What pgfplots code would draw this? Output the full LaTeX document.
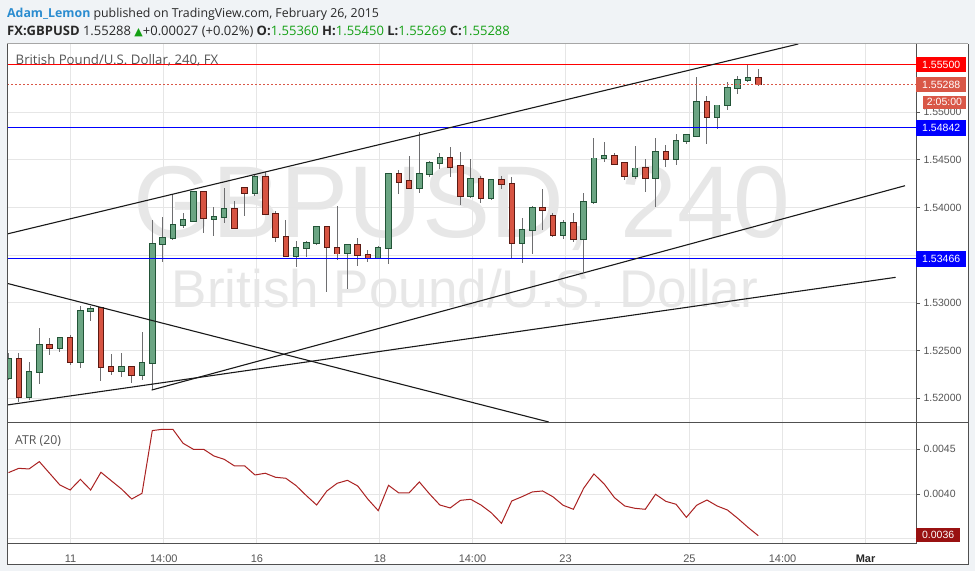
\documentclass[border=0pt]{standalone}
\usepackage{fontspec}
\setmainfont{Liberation Sans}
\newfontfamily\headfont{Open Sans}
\newfontfamily\symfont{DejaVu Sans}
\usepackage{pgfplots}
\usepackage{pgfplotstable}
\pgfplotsset{compat=1.18}
\definecolor{bg}{RGB}{240,243,246}
\definecolor{upfill}{RGB}{107,165,131}
\definecolor{upline}{RGB}{34,84,55}
\definecolor{dnfill}{RGB}{215,84,66}
\definecolor{dnline}{RGB}{91,26,19}
\definecolor{wick}{RGB}{110,110,112}
\definecolor{gridc}{RGB}{230,230,230}
\definecolor{wm}{RGB}{231,231,231}
\definecolor{lblgray}{RGB}{85,85,85}
\definecolor{hdr}{RGB}{40,40,40}
\definecolor{curred}{RGB}{217,87,71}
\definecolor{atrc}{RGB}{170,34,34}
\definecolor{atrbox}{RGB}{153,17,17}
\definecolor{userblue}{RGB}{42,140,208}
\definecolor{qgreen}{RGB}{20,160,20}
\definecolor{framec}{RGB}{80,80,80}
\definecolor{trend}{RGB}{25,25,25}

\pgfplotstableread{
i o h l c
1 1.52210 1.52475 1.52192 1.52409
3 1.52014 1.52384 1.51982 1.52276
4 1.52276 1.52737 1.52150 1.52559
6 1.52527 1.52642 1.52485 1.52632
8 1.52380 1.52967 1.52318 1.52915
9 1.52912 1.52967 1.52813 1.52939
12 1.52286 1.52475 1.52223 1.52328
14 1.52244 1.52695 1.52192 1.52370
15 1.52370 1.53868 1.52087 1.53617
16 1.53617 1.53900 1.53428 1.53677
17 1.53677 1.54130 1.53659 1.53813
18 1.53813 1.53945 1.53781 1.53868
19 1.53858 1.54175 1.53844 1.54159
21 1.53882 1.54008 1.53704 1.53897
22 1.53897 1.54201 1.53834 1.53981
25 1.54148 1.54351 1.54120 1.54316
29 1.53494 1.53648 1.53379 1.53572
30 1.53572 1.53648 1.53478 1.53624
31 1.53624 1.53809 1.53606 1.53792
34 1.53519 1.53617 1.53145 1.53603
37 1.53470 1.53596 1.53467 1.53572
38 1.53572 1.54355 1.53407 1.54350
41 1.54201 1.54794 1.54155 1.54350
42 1.54350 1.54490 1.54322 1.54463
43 1.54463 1.54567 1.54403 1.54515
46 1.54123 1.54508 1.54102 1.54295
48 1.54102 1.54298 1.54078 1.54288
51 1.53631 1.53893 1.53421 1.53764
52 1.53764 1.54015 1.53512 1.53997
55 1.53711 1.53868 1.53669 1.53834
57 1.53666 1.54155 1.53327 1.54054
58 1.54054 1.54731 1.54033 1.54515
59 1.54515 1.54686 1.54479 1.54536
62 1.54333 1.54644 1.54298 1.54410
64 1.54312 1.54725 1.54008 1.54578
66 1.54504 1.54770 1.54445 1.54696
67 1.54696 1.54770 1.54662 1.54756
68 1.54752 1.55370 1.54741 1.55102
70 1.54945 1.55070 1.54819 1.55070
71 1.55070 1.55311 1.55021 1.55249
72 1.55249 1.55377 1.55186 1.55332
73 1.55332 1.55500 1.55318 1.55353
}\upc

\pgfplotstableread{
i o h l c
2 1.52409 1.52478 1.51964 1.52011
5 1.52559 1.52632 1.52454 1.52527
7 1.52632 1.52663 1.52349 1.52380
10 1.52946 1.52960 1.52184 1.52325
11 1.52328 1.52464 1.52244 1.52286
13 1.52328 1.52331 1.52160 1.52244
20 1.54159 1.54165 1.53735 1.53886
23 1.53981 1.54068 1.53775 1.53781
24 1.54201 1.54211 1.53913 1.54148
26 1.54316 1.54375 1.53920 1.53928
27 1.53928 1.53963 1.53641 1.53687
28 1.53687 1.53868 1.53484 1.53494
32 1.53792 1.53809 1.53114 1.53582
33 1.53582 1.54015 1.53449 1.53519
35 1.53603 1.53680 1.53390 1.53499
36 1.53499 1.53554 1.53431 1.53470
39 1.54350 1.54392 1.54141 1.54270
40 1.54277 1.54542 1.54195 1.54201
44 1.54515 1.54637 1.54322 1.54427
45 1.54434 1.54584 1.54026 1.54123
47 1.54295 1.54333 1.54043 1.54102
49 1.54288 1.54333 1.54193 1.54243
50 1.54243 1.54322 1.53470 1.53631
53 1.53997 1.54193 1.53764 1.53973
54 1.53910 1.53945 1.53693 1.53711
56 1.53834 1.53939 1.53641 1.53666
60 1.54536 1.54567 1.54445 1.54458
61 1.54463 1.54473 1.54288 1.54333
63 1.54410 1.54508 1.54165 1.54312
65 1.54578 1.54654 1.54427 1.54504
69 1.55102 1.55168 1.54662 1.54945
74 1.55360 1.55450 1.55269 1.55288
}\dnc

\pgfplotstableread{
i v
1 0.004239
2 0.004287
3 0.004280
4 0.004362
5 0.004232
6 0.004101
7 0.004045
8 0.004164
9 0.004045
10 0.004243
11 0.004149
12 0.004056
13 0.003944
14 0.004008
15 0.004709
16 0.004724
17 0.004724
18 0.004567
19 0.004500
20 0.004500
21 0.004425
22 0.004388
23 0.004314
24 0.004314
25 0.004213
26 0.004232
27 0.004187
28 0.004176
29 0.004094
30 0.003982
31 0.003877
32 0.004034
33 0.004120
34 0.004153
35 0.004090
36 0.003941
37 0.003814
38 0.004097
39 0.004012
40 0.004012
41 0.004135
42 0.004000
43 0.003877
44 0.003844
45 0.003929
46 0.003941
47 0.003877
48 0.003791
49 0.003672
50 0.003922
51 0.003970
52 0.004023
53 0.004034
54 0.003970
55 0.003874
56 0.003829
57 0.004064
58 0.004224
59 0.004112
60 0.003959
61 0.003866
62 0.003840
63 0.003829
64 0.003997
65 0.003918
66 0.003885
67 0.003739
68 0.003874
69 0.003933
70 0.003866
71 0.003821
72 0.003728
73 0.003627
74 0.003534
}\atr

\pgfplotsset{
  wickstyle/.style={draw=none, mark=none, forget plot,
    error bars/.cd, y dir=both, y explicit, error mark=none,
    error bar style={draw=wick, line width=1pt}},
  bodyout/.style={draw=none, mark=none, forget plot,
    error bars/.cd, y dir=both, y explicit, error mark=none,
    error bar style={draw=#1, line width=6.5pt}},
  bodyin/.style={draw=none, mark=none, forget plot,
    error bars/.cd, y dir=both, y explicit, error mark=none,
    error bar style={draw=#1, line width=4.5pt}},
}

\begin{document}
\begin{tikzpicture}
\fill[bg] (0pt,0pt) rectangle (975pt,-571pt);
\path[use as bounding box] (0pt,0pt) rectangle (975pt,-571pt);
\fill[white] (7pt,-43.5pt) rectangle (968pt,-564pt);

% watermark
\node[anchor=base, inner sep=0pt, text=wm, font=\fontsize{102}{110}\selectfont] at (462pt,-237pt) {GBPUSD, 240};
\node[anchor=base, inner sep=0pt, text=wm, font=\fontsize{53}{60}\selectfont] at (465pt,-307pt) {British Pound/U.S. Dollar};

\begin{axis}[
  at={(7pt,-422pt)}, anchor=south west,
  scale only axis, width=909pt, height=378.5pt,
  xmin=0.854, xmax=89.36, ymin=1.51752, ymax=1.55718,
  axis line style={draw=none},
  xtick={7.05,16.12,25.19,37.17,46.18,55.24,67.3,76.37,84.45},
  xticklabels={{},{},{},{},{},{},{},{},{}}, xtick style={draw=none},
  ytick={1.52,1.525,1.53,1.535,1.54,1.545,1.55,1.555},
  yticklabels={1.52000,1.52500,1.53000,{},1.54000,1.54500,1.55000,{}},
  ytick pos=right, yticklabel pos=right,
  tick align=outside, major tick length=4pt,
  ytick style={draw=lblgray, line width=0.8pt},
  scaled y ticks=false,
  yticklabel style={font=\fontsize{10.5}{12}\selectfont, text=lblgray},
  grid=major, major grid style={draw=gridc, line width=1pt},
]
% wicks
\addplot[wickstyle] table[x=i, y expr={(\thisrow{h}+\thisrow{l})/2}, y error expr={(\thisrow{h}-\thisrow{l})/2}] {\upc};
\addplot[wickstyle] table[x=i, y expr={(\thisrow{h}+\thisrow{l})/2}, y error expr={(\thisrow{h}-\thisrow{l})/2}] {\dnc};
% bodies
\addplot[bodyout=upline] table[x=i, y expr={(\thisrow{o}+\thisrow{c})/2}, y error expr={abs(\thisrow{c}-\thisrow{o})/2+0.0001}] {\upc};
\addplot[bodyin=upfill] table[x=i, y expr={(\thisrow{o}+\thisrow{c})/2}, y error expr={abs(\thisrow{c}-\thisrow{o})/2}] {\upc};
\addplot[bodyout=dnline] table[x=i, y expr={(\thisrow{o}+\thisrow{c})/2}, y error expr={abs(\thisrow{c}-\thisrow{o})/2+0.0001}] {\dnc};
\addplot[bodyin=dnfill] table[x=i, y expr={(\thisrow{o}+\thisrow{c})/2}, y error expr={abs(\thisrow{c}-\thisrow{o})/2}] {\dnc};
% horizontal levels
\addplot[red, line width=1pt, forget plot] coordinates {(0.854,1.555) (89.36,1.555)};
\addplot[curred, line width=1pt, dash pattern=on 2pt off 2pt, forget plot] coordinates {(0.854,1.55288) (89.36,1.55288)};
\addplot[blue, line width=1pt, forget plot] coordinates {(0.854,1.54842) (89.36,1.54842)};
\addplot[blue, line width=1pt, forget plot] coordinates {(0.854,1.53466) (89.36,1.53466)};
% trend lines
\addplot[trend, line width=1.1pt, forget plot] coordinates {(0.854,1.53722) (77.9,1.55713)};
\addplot[trend, line width=1.1pt, forget plot] coordinates {(14.94,1.52087) (88.29,1.54228)};
\addplot[trend, line width=1.1pt, forget plot] coordinates {(0.854,1.51930) (87.38,1.53268)};
\addplot[trend, line width=1.1pt, forget plot] coordinates {(0.854,1.53205) (53.6,1.51752)};
\end{axis}

\begin{axis}[
  at={(7pt,-543pt)}, anchor=south west,
  scale only axis, width=909pt, height=121pt,
  xmin=0.854, xmax=89.36, ymin=0.003452, ymax=0.004805,
  axis line style={draw=none},
  xtick={7.05,16.12,25.19,37.17,46.18,55.24,67.3,76.37,84.45},
  xticklabels={11,14:00,16,18,14:00,23,25,14:00,{\color{hdr}\bfseries Mar}},
  xtick style={draw=none},
  xticklabel style={font=\fontsize{11}{12}\selectfont, text=lblgray, anchor=base, yshift=-15pt},
  ytick={0.0035,0.004,0.0045},
  yticklabels={{},0.0040,0.0045},
  ytick pos=right, yticklabel pos=right,
  tick align=outside, major tick length=4pt,
  ytick style={draw=lblgray, line width=0.8pt},
  scaled y ticks=false,
  yticklabel style={font=\fontsize{10.5}{12}\selectfont, text=lblgray},
  grid=major, major grid style={draw=gridc, line width=1pt},
]
\addplot[atrc, line width=1pt, mark=none] table[x=i, y=v] {\atr};
\end{axis}

% frame
\draw[framec, line width=1pt] (7pt,-43.5pt) -- (7pt,-564pt) -- (968pt,-564pt) -- (968pt,-43.5pt);
\draw[gray!70, line width=1pt] (7pt,-43.5pt) -- (968pt,-43.5pt);
\draw[framec, line width=1pt] (916pt,-43.5pt) -- (916pt,-543pt) -- (7pt,-543pt);
\draw[framec, line width=1pt] (7pt,-422pt) -- (968pt,-422pt);

% price labels
\begin{scope}[every node/.style={inner sep=0pt, text=white, font=\fontsize{10.5}{12}\selectfont}]
\node[fill=red, minimum width=50pt, minimum height=15pt, anchor=west] at (916pt,-64.8pt) {1.55500};
\node[fill=curred, minimum width=50pt, minimum height=15pt, anchor=west] at (916pt,-84.8pt) {1.55288};
\node[fill=curred, minimum width=42.5pt, minimum height=13.3pt] at (944.5pt,-102.3pt) {2:05:00};
\node[fill=blue, minimum width=50pt, minimum height=15.7pt, anchor=west] at (916pt,-127.8pt) {1.54842};
\node[fill=blue, minimum width=50pt, minimum height=15.7pt, anchor=west] at (916pt,-259.2pt) {1.53466};
\node[fill=atrbox, minimum width=44pt, minimum height=14pt, anchor=west] at (916pt,-535.3pt) {0.0036};
\end{scope}

% panel titles
\node[anchor=base west, inner sep=0pt, text=lblgray, font=\headfont\fontsize{13.2}{15}\selectfont] at (15.5pt,-64pt) {British Pound/U.S. Dollar, 240, FX};
\node[anchor=base west, inner sep=0pt, text=lblgray, font=\headfont\fontsize{12.3}{14}\selectfont] at (15pt,-444pt) {ATR (20)};

% header
\node[anchor=base west, inner sep=0pt, font=\headfont\fontsize{12.35}{15}\selectfont] at (7pt,-17pt)
  {\textcolor{userblue}{\bfseries Adam\_Lemon} \textcolor{hdr}{published on TradingView.com, February 26, 2015}};
\node[anchor=base west, inner sep=0pt, text=hdr, font=\headfont\fontsize{13}{15}\selectfont] at (7pt,-35.5pt)
  {\textbf{FX:GBPUSD} 1.55288 {\symfont\fontsize{11}{12}\selectfont\textcolor{qgreen}{▲}}+0.00027 (+0.02\%) \textbf{O:}\textcolor{qgreen}{1.55360} \textbf{H:}\textcolor{qgreen}{1.55450} \textbf{L:}\textcolor{qgreen}{1.55269} \textbf{C:}\textcolor{qgreen}{1.55288}};
\end{tikzpicture}
\end{document}
